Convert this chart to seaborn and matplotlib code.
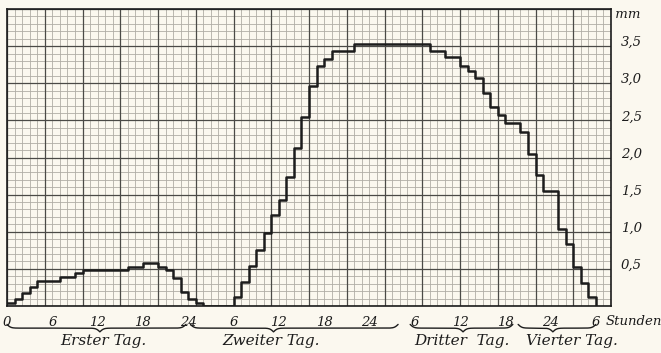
import numpy as np
import matplotlib
matplotlib.use("Agg")
import matplotlib.pyplot as plt
import seaborn as sns

# hours since start of experiment where the reading changes, and the reading (mm)
step_hours = [0, 1, 2, 3, 4, 7, 9, 10, 16, 18, 20, 21, 22, 23, 24, 25, 26,
              30, 31, 32, 33, 34, 35, 36, 37, 38, 39, 40, 41, 42, 43, 46,
              56, 58, 60, 61, 62, 63, 64, 65, 66, 68, 69, 70, 71, 73, 74,
              75, 76, 77, 78]
depth_mm = [0.04, 0.09, 0.17, 0.26, 0.33, 0.39, 0.45, 0.49, 0.53, 0.58, 0.53,
            0.48, 0.38, 0.19, 0.10, 0.04, 0.0,
            0.12, 0.32, 0.54, 0.76, 0.98, 1.22, 1.43, 1.74, 2.13, 2.55, 2.96,
            3.23, 3.33, 3.44, 3.53,
            3.44, 3.36, 3.23, 3.16, 3.07, 2.87, 2.68, 2.57, 2.46, 2.35, 2.05,
            1.77, 1.55, 1.04, 0.83, 0.53, 0.31, 0.12, 0.0]

tick_hours = [0, 6, 12, 18, 24, 30, 36, 42, 48, 54, 60, 66, 72, 78]
tick_labels = ["0", "6", "12", "18", "24", "6", "12", "18", "24", "6", "12", "18", "24", "6"]
y_ticks = [0.5, 1.0, 1.5, 2.0, 2.5, 3.0, 3.5]
y_labels = ["0,5", "1,0", "1,5", "2,0", "2,5", "3,0", "3,5"]

# day braces: start, tip, end (hours) and caption
day_names = ["Erster Tag.", "Zweiter Tag.", "Dritter  Tag.", "Vierter Tag."]
day_start = [0, 24.3, 53.4, 67.7]
day_tip = [12.3, 35.3, 60.4, 72.3]
day_end = [23.7, 51.8, 67.0, 78.0]
day_text_x = [12.8, 35.0, 60.3, 74.8]

paper = "#fbf8ef"
ink = "#1c1c1c"

sns.set_style("white")
plt.rcParams["font.family"] = ["DejaVu Serif"]

fig = plt.figure(figsize=(6.61, 3.53), dpi=100, facecolor=paper)
ax = fig.add_axes([7 / 661, (353 - 306) / 353, 604 / 661, 297 / 353])
ax.set_facecolor(paper)
ax.set_xlim(0, 80)
ax.set_ylim(0, 4.0)

# graph paper
xs = np.arange(0, 81)
ys = np.round(np.arange(0, 4.01, 0.1), 2)
ax.vlines([x for x in xs if x % 5], 0, 4, colors="#b0ada6", lw=0.6, zorder=1)
ax.hlines([y for i, y in enumerate(ys) if i % 5], 0, 80, colors="#b0ada6", lw=0.6, zorder=1)
ax.vlines([x for x in xs if x % 5 == 0], 0, 4, colors="#4b4a47", lw=0.9, zorder=2)
ax.hlines([y for i, y in enumerate(ys) if i % 5 == 0], 0, 80, colors="#4b4a47", lw=0.9, zorder=2)

sns.lineplot(x=step_hours, y=depth_mm, drawstyle="steps-post", color=ink,
             lw=1.8, ax=ax, zorder=5)

for s in ax.spines.values():
    s.set_color(ink)
    s.set_linewidth(1.2)

ax.set_xticks(tick_hours, tick_labels)
ax.yaxis.tick_right()
ax.set_yticks(y_ticks, y_labels)
ax.tick_params(axis="both", length=0, labelsize=9.5, colors=ink)
ax.tick_params(axis="x", pad=7)
ax.tick_params(axis="y", pad=7)
for t in ax.get_xticklabels() + ax.get_yticklabels():
    t.set_fontstyle("italic")
for t in ax.get_yticklabels():
    t.set_va("baseline")
ax.set_xlabel("")
ax.set_ylabel("")

ax.text(1.0, 3.92, " mm", transform=ax.get_yaxis_transform(), fontsize=9.5,
        style="italic", color=ink, ha="left", va="center")
ax.text(79.3, -0.052, "Stunden", transform=ax.get_xaxis_transform(), fontsize=9.5,
        style="italic", color=ink, ha="left", va="center", clip_on=False)


def brace(x0, xm, x1, y, h, beta=4.0):
    trans = ax.get_xaxis_transform()

    def half(a, b):
        x = np.linspace(a, b, 200)
        v = 1 / (1 + np.exp(-beta * (x - a))) + 1 / (1 + np.exp(-beta * (x - b)))
        return x, v

    xl, vl = half(x0, xm)
    xr, vr = half(xm, x1)
    vr = vr[::-1]
    bx = np.concatenate([xl, xr])
    by = np.concatenate([y - h * (vl - 0.5), y - h * (vr - 0.5)])
    ax.plot(bx, by, color=ink, lw=1.0, transform=trans, clip_on=False)


for name, a, m, b, tx in zip(day_names, day_start, day_tip, day_end, day_text_x):
    brace(a, m, b, -0.062, 0.025)
    ax.text(tx, -0.118, name, transform=ax.get_xaxis_transform(), fontsize=11,
            style="italic", color=ink, ha="center", va="center")

fig.savefig("out.png", dpi=100, facecolor=paper)
